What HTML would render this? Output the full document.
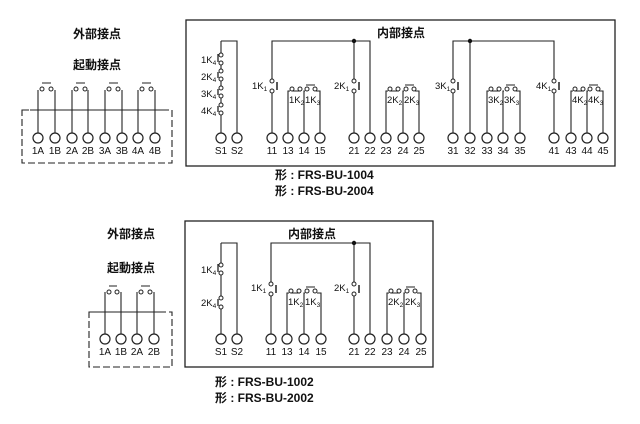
<!DOCTYPE html>
<html><head><meta charset="utf-8"><style>
html,body{margin:0;padding:0;background:#fff;width:640px;height:424px;overflow:hidden}
svg{display:block}
text{font-family:"Liberation Sans","Noto Sans CJK JP",sans-serif;fill:#111}
.t{font-size:10px;text-anchor:middle}
.h{font-size:12px;font-weight:bold}
.k{font-size:9.5px}
.s{font-size:6.5px}
</style></head><body>
<svg width="640" height="424" viewBox="0 0 640 424" xmlns="http://www.w3.org/2000/svg">
<g stroke="#222" stroke-width="1.1" fill="none">
<rect x="186" y="20" width="429" height="146" stroke-width="1.3"/>
<path d="M221 41H237V133 M221 41V53 M221 65V69 M221 81V86 M221 98V103 M221 115V133"/>
<path d="M218 54V62 M218 72V78 M218 89V95 M218 106V112" stroke-width="1.3"/>
<path d="M272 133V93 M272 79V41H370V133 M354 41V79 M354 93V133"/>
<path d="M277 82V90 M359 82V90" stroke-width="1.5"/>
<path d="M453 133V93 M453 79V41H554V79 M554 93V133 M470 41V133"/>
<path d="M458 82V90 M559 82V90" stroke-width="1.5"/>
<path d="M288 133V91H290 M292 91H301 M304 133V91H305 M320 133V91H316 M306 85H315"/>
<path d="M386 133V91H388 M390 91H399 M403 133V91H404 M419 133V91H415 M405 85H414"/>
<path d="M487 133V91H489 M491 91H500 M503 133V91H504 M520 133V91H516 M506 85H515"/>
<path d="M571 133V91H573 M575 91H584 M587 133V91H588 M603 133V91H599 M589 85H598"/>
<path d="M38 133V90 M55 133V90 M72 133V90 M88 133V90 M105 133V90 M122 133V90 M138 133V90 M155 133V90"/>
<path d="M42 83H51 M76 83H85 M109 83H118 M142 83H151"/>
<path d="M30 110H165"/>
<rect x="22" y="110" width="150" height="53" stroke-dasharray="7,3"/>

<rect x="185" y="221" width="248" height="146" stroke-width="1.3"/>
<path d="M221 243H237V334 M221 243V263 M221 275V296 M221 309V334"/>
<path d="M218 264V272 M218 299V306" stroke-width="1.3"/>
<path d="M271 334V296 M271 282V243H370V334 M354 243V282 M354 296V334"/>
<path d="M276 285V293 M359 285V293" stroke-width="1.5"/>
<path d="M287 334V293H289 M291 293H300 M304 334V293H305 M321 334V293H317 M306 287H315"/>
<path d="M387 334V293H389 M391 293H400 M404 334V293H405 M421 334V293H417 M406 287H415"/>
<path d="M105 334V292 M121 334V292 M137 334V292 M154 334V292"/>
<path d="M109 286H117 M141 286H150"/>
<path d="M95 312H165"/>
<rect x="89" y="312" width="83" height="55" stroke-dasharray="7,3"/>
</g>

<g stroke="#222" stroke-width="1" fill="#fff">
<circle cx="221" cy="55" r="2"/><circle cx="221" cy="63" r="2"/>
<circle cx="221" cy="71" r="2"/><circle cx="221" cy="79" r="2"/>
<circle cx="221" cy="88" r="2"/><circle cx="221" cy="96" r="2"/>
<circle cx="221" cy="105" r="2"/><circle cx="221" cy="113" r="2"/>
<circle cx="272" cy="81" r="2"/><circle cx="272" cy="91" r="2"/>
<circle cx="354" cy="81" r="2"/><circle cx="354" cy="91" r="2"/>
<circle cx="453" cy="81" r="2"/><circle cx="453" cy="91" r="2"/>
<circle cx="554" cy="81" r="2"/><circle cx="554" cy="91" r="2"/>
<circle cx="292" cy="89" r="2"/><circle cx="300" cy="89" r="2"/><circle cx="307" cy="89" r="2"/><circle cx="315" cy="89" r="2"/>
<circle cx="390" cy="89" r="2"/><circle cx="398" cy="89" r="2"/><circle cx="406" cy="89" r="2"/><circle cx="414" cy="89" r="2"/>
<circle cx="491" cy="89" r="2"/><circle cx="499" cy="89" r="2"/><circle cx="507" cy="89" r="2"/><circle cx="515" cy="89" r="2"/>
<circle cx="575" cy="89" r="2"/><circle cx="583" cy="89" r="2"/><circle cx="590" cy="89" r="2"/><circle cx="598" cy="89" r="2"/>
<circle cx="42" cy="89" r="2"/><circle cx="51" cy="89" r="2"/><circle cx="76" cy="89" r="2"/><circle cx="85" cy="89" r="2"/>
<circle cx="109" cy="89" r="2"/><circle cx="118" cy="89" r="2"/><circle cx="142" cy="89" r="2"/><circle cx="151" cy="89" r="2"/>
<circle cx="221" cy="265" r="2"/><circle cx="221" cy="273" r="2"/>
<circle cx="221" cy="298" r="2"/><circle cx="221" cy="307" r="2"/>
<circle cx="271" cy="284" r="2"/><circle cx="271" cy="294" r="2"/>
<circle cx="354" cy="284" r="2"/><circle cx="354" cy="294" r="2"/>
<circle cx="291" cy="291" r="2"/><circle cx="299" cy="291" r="2"/><circle cx="307" cy="291" r="2"/><circle cx="315" cy="291" r="2"/>
<circle cx="391" cy="291" r="2"/><circle cx="399" cy="291" r="2"/><circle cx="407" cy="291" r="2"/><circle cx="415" cy="291" r="2"/>
<circle cx="109" cy="292" r="2"/><circle cx="117" cy="292" r="2"/><circle cx="141" cy="292" r="2"/><circle cx="150" cy="292" r="2"/>
</g>
<g fill="#111"><circle cx="354" cy="41" r="2.2"/><circle cx="470" cy="41" r="2.2"/><circle cx="354" cy="243" r="2.2"/></g>

<g stroke="#222" stroke-width="1.2" fill="#fff">
<circle cx="38" cy="138" r="5"/><circle cx="55" cy="138" r="5"/><circle cx="72" cy="138" r="5"/><circle cx="88" cy="138" r="5"/>
<circle cx="105" cy="138" r="5"/><circle cx="122" cy="138" r="5"/><circle cx="138" cy="138" r="5"/><circle cx="155" cy="138" r="5"/>
<circle cx="221" cy="138" r="5"/><circle cx="237" cy="138" r="5"/>
<circle cx="272" cy="138" r="5"/><circle cx="288" cy="138" r="5"/><circle cx="304" cy="138" r="5"/><circle cx="320" cy="138" r="5"/>
<circle cx="354" cy="138" r="5"/><circle cx="370" cy="138" r="5"/><circle cx="386" cy="138" r="5"/><circle cx="403" cy="138" r="5"/><circle cx="419" cy="138" r="5"/>
<circle cx="453" cy="138" r="5"/><circle cx="470" cy="138" r="5"/><circle cx="487" cy="138" r="5"/><circle cx="503" cy="138" r="5"/><circle cx="520" cy="138" r="5"/>
<circle cx="554" cy="138" r="5"/><circle cx="571" cy="138" r="5"/><circle cx="587" cy="138" r="5"/><circle cx="603" cy="138" r="5"/>
<circle cx="105" cy="339" r="5"/><circle cx="121" cy="339" r="5"/><circle cx="137" cy="339" r="5"/><circle cx="154" cy="339" r="5"/>
<circle cx="221" cy="339" r="5"/><circle cx="237" cy="339" r="5"/>
<circle cx="271" cy="339" r="5"/><circle cx="287" cy="339" r="5"/><circle cx="304" cy="339" r="5"/><circle cx="321" cy="339" r="5"/>
<circle cx="354" cy="339" r="5"/><circle cx="370" cy="339" r="5"/><circle cx="387" cy="339" r="5"/><circle cx="404" cy="339" r="5"/><circle cx="421" cy="339" r="5"/>
</g>

<g class="t">
<text x="38" y="154" class="t">1A</text><text x="55" y="154" class="t">1B</text><text x="72" y="154" class="t">2A</text><text x="88" y="154" class="t">2B</text>
<text x="105" y="154" class="t">3A</text><text x="122" y="154" class="t">3B</text><text x="138" y="154" class="t">4A</text><text x="155" y="154" class="t">4B</text>
<text x="221" y="154" class="t">S1</text><text x="237" y="154" class="t">S2</text>
<text x="272" y="154" class="t">11</text><text x="288" y="154" class="t">13</text><text x="304" y="154" class="t">14</text><text x="320" y="154" class="t">15</text>
<text x="354" y="154" class="t">21</text><text x="370" y="154" class="t">22</text><text x="386" y="154" class="t">23</text><text x="403" y="154" class="t">24</text><text x="419" y="154" class="t">25</text>
<text x="453" y="154" class="t">31</text><text x="470" y="154" class="t">32</text><text x="487" y="154" class="t">33</text><text x="503" y="154" class="t">34</text><text x="520" y="154" class="t">35</text>
<text x="554" y="154" class="t">41</text><text x="571" y="154" class="t">43</text><text x="587" y="154" class="t">44</text><text x="603" y="154" class="t">45</text>
<text x="105" y="355" class="t">1A</text><text x="121" y="355" class="t">1B</text><text x="137" y="355" class="t">2A</text><text x="154" y="355" class="t">2B</text>
<text x="221" y="355" class="t">S1</text><text x="237" y="355" class="t">S2</text>
<text x="271" y="355" class="t">11</text><text x="287" y="355" class="t">13</text><text x="304" y="355" class="t">14</text><text x="321" y="355" class="t">15</text>
<text x="354" y="355" class="t">21</text><text x="370" y="355" class="t">22</text><text x="387" y="355" class="t">23</text><text x="404" y="355" class="t">24</text><text x="421" y="355" class="t">25</text>
</g>

<g class="k">
<text x="201" y="63">1K<tspan class="s" dy="2">4</tspan></text>
<text x="201" y="80">2K<tspan class="s" dy="2">4</tspan></text>
<text x="201" y="97">3K<tspan class="s" dy="2">4</tspan></text>
<text x="201" y="114">4K<tspan class="s" dy="2">4</tspan></text>
<text x="252" y="89">1K<tspan class="s" dy="2">1</tspan></text>
<text x="334" y="89">2K<tspan class="s" dy="2">1</tspan></text>
<text x="435" y="89">3K<tspan class="s" dy="2">1</tspan></text>
<text x="536" y="89">4K<tspan class="s" dy="2">1</tspan></text>
<text x="289" y="103">1K<tspan class="s" dy="2">2</tspan></text><text x="305" y="103">1K<tspan class="s" dy="2">3</tspan></text>
<text x="387" y="103">2K<tspan class="s" dy="2">2</tspan></text><text x="404" y="103">2K<tspan class="s" dy="2">3</tspan></text>
<text x="488" y="103">3K<tspan class="s" dy="2">2</tspan></text><text x="504" y="103">3K<tspan class="s" dy="2">3</tspan></text>
<text x="572" y="103">4K<tspan class="s" dy="2">2</tspan></text><text x="588" y="103">4K<tspan class="s" dy="2">3</tspan></text>
<text x="201" y="273">1K<tspan class="s" dy="2">4</tspan></text>
<text x="201" y="306">2K<tspan class="s" dy="2">4</tspan></text>
<text x="251" y="291">1K<tspan class="s" dy="2">1</tspan></text>
<text x="334" y="291">2K<tspan class="s" dy="2">1</tspan></text>
<text x="288" y="305">1K<tspan class="s" dy="2">2</tspan></text><text x="305" y="305">1K<tspan class="s" dy="2">3</tspan></text>
<text x="388" y="305">2K<tspan class="s" dy="2">2</tspan></text><text x="405" y="305">2K<tspan class="s" dy="2">3</tspan></text>
</g>

<g class="h">
<text x="73" y="38">外部接点</text>
<text x="73" y="69">起動接点</text>
<text x="377" y="37">内部接点</text>
<text x="275" y="179">形 : FRS-BU-1004</text>
<text x="275" y="195">形 : FRS-BU-2004</text>
<text x="107" y="238">外部接点</text>
<text x="107" y="272">起動接点</text>
<text x="288" y="238">内部接点</text>
<text x="215" y="386">形 : FRS-BU-1002</text>
<text x="215" y="402">形 : FRS-BU-2002</text>
</g>
</svg>
</body></html>
